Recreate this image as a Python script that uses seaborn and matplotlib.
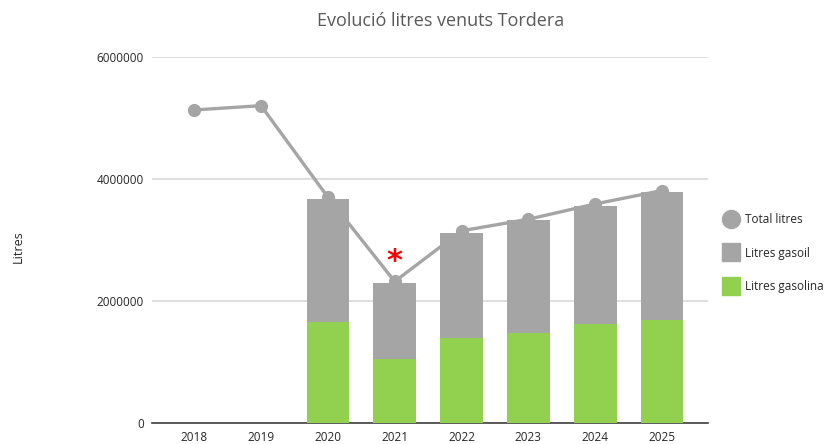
import numpy as np
import pandas as pd
import matplotlib
matplotlib.use("Agg")
import matplotlib.pyplot as plt
import seaborn as sns
from matplotlib.lines import Line2D

# Data
years = ["2018", "2019", "2020", "2021", "2022", "2023", "2024", "2025"]
total_litres = [5130000, 5200000, 3700000, 2320000, 3150000, 3340000, 3590000, 3810000]
bar_years = ["2020", "2021", "2022", "2023", "2024", "2025"]
litres_gasolina = [1660000, 1050000, 1400000, 1480000, 1620000, 1690000]
litres_gasoil = [2010000, 1240000, 1710000, 1840000, 1940000, 2100000]
yticks = [0, 2000000, 4000000, 6000000]

GREEN = "#92D050"
GRAY = "#A5A5A5"

sns.set_style("white")
plt.rcParams["font.family"] = ["Open Sans", "DejaVu Sans"]

bars = pd.DataFrame({
    "year": bar_years,
    "gasolina": litres_gasolina,
    "gasoil": litres_gasoil,
})
bars["stack"] = bars["gasolina"] + bars["gasoil"]
line = pd.DataFrame({"pos": np.arange(len(years)), "total": total_litres})

fig = plt.figure(figsize=(8.36, 4.44), dpi=100)
ax = fig.add_axes([0.182, 0.047, 0.665, 0.825])

# total line sits behind the bars
sns.lineplot(data=line, x="pos", y="total", color=GRAY, linewidth=2.4,
             marker="o", markersize=9.5, markeredgewidth=0, ax=ax, zorder=1)

sns.barplot(data=bars, x="year", y="stack", order=years, color=GRAY,
            width=0.64, saturation=1, linewidth=0, ax=ax, zorder=2)
sns.barplot(data=bars, x="year", y="gasolina", order=years, color=GREEN,
            width=0.64, saturation=1, linewidth=0, ax=ax, zorder=3)

ax.set_xlim(-0.63, 7.69)
ax.set_ylim(0, 6000000)
ax.set_yticks(yticks)
ax.set_yticklabels([str(v) for v in yticks])
ax.set_xticks(range(len(years)))
ax.set_xticklabels(years)
ax.yaxis.grid(True, color="#D9D9D9", linewidth=1.2, zorder=0)
ax.set_axisbelow(True)
for s in ["top", "right", "left"]:
    ax.spines[s].set_visible(False)
ax.spines["bottom"].set_color("#404040")
ax.spines["bottom"].set_linewidth(1.2)
ax.tick_params(axis="both", length=0, labelsize=8.5, colors="#262626", pad=6)
ax.set_xlabel("")
ax.set_ylabel("")

# red asterisk over 2021
ax.text(3, 2640000, "*", color="#FF0000", fontsize=22, fontweight="bold",
        ha="center", va="center", family="DejaVu Sans")

fig.text(0.527, 0.953, "Evolució litres venuts Tordera", ha="center", va="center",
         fontsize=13, color="#595959")
fig.text(0.022, 0.445, "Litres", rotation=90, ha="center", va="center",
         fontsize=9, color="#262626")

handles = [
    Line2D([], [], marker="o", color=GRAY, linestyle="none", markersize=13),
    Line2D([], [], marker="s", color=GRAY, linestyle="none", markersize=13),
    Line2D([], [], marker="s", color=GREEN, linestyle="none", markersize=13),
]
fig.legend(handles, ["Total litres", "Litres gasoil", "Litres gasolina"],
           loc="center left", bbox_to_anchor=(0.853, 0.43), frameon=False,
           fontsize=8.5, handletextpad=0.5, labelspacing=1.75, handlelength=1.3)

fig.savefig("out.png", dpi=100)
